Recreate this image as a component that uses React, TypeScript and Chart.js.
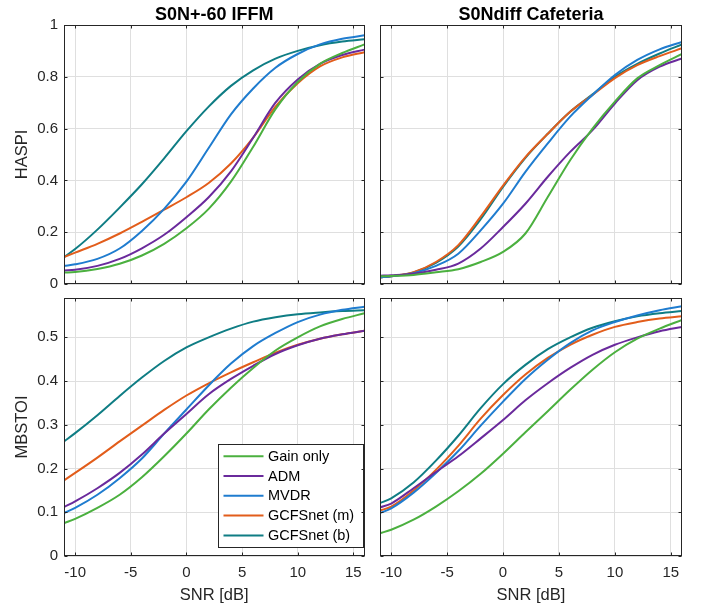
import React, { useEffect, useRef } from "react";
import { Chart, registerables } from "chart.js";

Chart.register(...registerables);

// ---------- data ----------
const SNR = [-11, -10, -8, -6, -4, -2, 0, 2, 4, 6, 8, 10, 12, 14, 16];
const X_TICKS = [-10, -5, 0, 5, 10, 15];
const HASPI_TICKS = [0, 0.2, 0.4, 0.6, 0.8, 1];
const MBSTOI_TICKS = [0, 0.1, 0.2, 0.3, 0.4, 0.5];
const SERIES_NAMES = ["Gain only", "ADM", "MVDR", "GCFSnet (m)", "GCFSnet (b)"];
const SERIES_COLORS = ["#4bb03f", "#6a2a9c", "#1f7ccf", "#e25d1b", "#0f7d84"];
const PANEL_TITLES = ["S0N+-60 IFFM", "S0Ndiff Cafeteria"];
const X_LABEL = "SNR [dB]";
const Y_LABELS = ["HASPI", "MBSTOI"];

// HASPI, S0N+-60 IFFM
const haspiIffmGain = [0.044, 0.046, 0.058, 0.078, 0.11, 0.155, 0.215, 0.29, 0.395, 0.53, 0.675, 0.78, 0.85, 0.892, 0.925];
const haspiIffmAdm = [0.052, 0.055, 0.07, 0.097, 0.138, 0.19, 0.258, 0.335, 0.435, 0.565, 0.7, 0.79, 0.85, 0.884, 0.905];
const haspiIffmMvdr = [0.07, 0.076, 0.097, 0.137, 0.205, 0.29, 0.395, 0.525, 0.655, 0.755, 0.835, 0.888, 0.925, 0.947, 0.96];
const haspiIffmGcfsM = [0.104, 0.121, 0.155, 0.195, 0.24, 0.287, 0.335, 0.39, 0.465, 0.565, 0.685, 0.775, 0.84, 0.875, 0.895];
const haspiIffmGcfsB = [0.104, 0.135, 0.21, 0.295, 0.385, 0.485, 0.59, 0.685, 0.765, 0.825, 0.87, 0.9, 0.922, 0.936, 0.945];

// HASPI, S0Ndiff Cafeteria
const haspiCafeGain = [0.03, 0.031, 0.035, 0.045, 0.057, 0.085, 0.124, 0.195, 0.336, 0.478, 0.6, 0.704, 0.794, 0.845, 0.888];
const haspiCafeAdm = [0.032, 0.034, 0.04, 0.055, 0.079, 0.137, 0.22, 0.31, 0.414, 0.51, 0.594, 0.697, 0.787, 0.839, 0.871];
const haspiCafeMvdr = [0.025, 0.03, 0.042, 0.07, 0.117, 0.207, 0.31, 0.433, 0.543, 0.646, 0.73, 0.807, 0.865, 0.906, 0.935];
const haspiCafeGcfsM = [0.025, 0.03, 0.046, 0.085, 0.15, 0.26, 0.38, 0.49, 0.58, 0.665, 0.73, 0.795, 0.845, 0.88, 0.91];
const haspiCafeGcfsB = [0.025, 0.03, 0.045, 0.082, 0.145, 0.25, 0.375, 0.487, 0.58, 0.665, 0.732, 0.8, 0.85, 0.89, 0.925];

// MBSTOI, S0N+-60 IFFM
const mbstoiIffmGain = [0.075, 0.085, 0.11, 0.14, 0.18, 0.228, 0.28, 0.335, 0.385, 0.43, 0.47, 0.5, 0.525, 0.542, 0.555];
const mbstoiIffmAdm = [0.112, 0.125, 0.155, 0.19, 0.232, 0.28, 0.325, 0.37, 0.405, 0.435, 0.462, 0.482, 0.497, 0.507, 0.515];
const mbstoiIffmMvdr = [0.098, 0.11, 0.14, 0.178, 0.223, 0.28, 0.335, 0.39, 0.44, 0.48, 0.51, 0.535, 0.552, 0.563, 0.57];
const mbstoiIffmGcfsM = [0.173, 0.19, 0.225, 0.262, 0.298, 0.334, 0.367, 0.395, 0.42, 0.443, 0.465, 0.483, 0.497, 0.507, 0.515];
const mbstoiIffmGcfsB = [0.262, 0.281, 0.322, 0.366, 0.408, 0.446, 0.477, 0.5, 0.52, 0.536, 0.546, 0.553, 0.557, 0.56, 0.562];

// MBSTOI, S0Ndiff Cafeteria
const mbstoiCafeGain = [0.052, 0.06, 0.083, 0.113, 0.148, 0.188, 0.234, 0.283, 0.331, 0.38, 0.426, 0.466, 0.497, 0.52, 0.54];
const mbstoiCafeAdm = [0.111, 0.12, 0.155, 0.192, 0.228, 0.269, 0.311, 0.356, 0.395, 0.43, 0.46, 0.483, 0.5, 0.514, 0.524];
const mbstoiCafeMvdr = [0.098, 0.109, 0.145, 0.19, 0.24, 0.298, 0.353, 0.405, 0.449, 0.487, 0.516, 0.535, 0.55, 0.562, 0.571];
const mbstoiCafeGcfsM = [0.104, 0.113, 0.15, 0.197, 0.252, 0.314, 0.368, 0.415, 0.453, 0.483, 0.506, 0.524, 0.535, 0.543, 0.548];
const mbstoiCafeGcfsB = [0.121, 0.132, 0.168, 0.218, 0.275, 0.338, 0.393, 0.437, 0.473, 0.5, 0.522, 0.537, 0.548, 0.555, 0.56];

// ---------- styling ----------
const FONT = "'Liberation Sans', Arial, Helvetica, sans-serif";
const TEXT = "#262626";
const GRID = "#dfdfdf";
const TICK_LEN = 3;

type Pad = { top: number; right: number; bottom: number; left: number };
type PanelProps = {
  left: number;
  top: number;
  width: number;
  height: number;
  pad: Pad;
  yAxisWidth: number;
  xAxisHeight: number;
  title?: string;
  xTitle?: string;
  yTitle?: string;
  showXLabels: boolean;
  showYLabels: boolean;
  yMax: number;
  yTicks: number[];
  series: number[][];
  legend?: boolean;
};

function zeroPad(s: any) {
  s.paddingLeft = 0;
  s.paddingRight = 0;
  s.paddingTop = 0;
  s.paddingBottom = 0;
}

const framePlugin = {
  id: "frame",
  afterDraw(chart: any) {
    const { ctx, chartArea: a, scales } = chart;
    const l = Math.round(a.left) + 0.5;
    const r = Math.round(a.right) - 0.5;
    const t = Math.round(a.top) + 0.5;
    const b = Math.round(a.bottom) - 0.5;
    ctx.save();
    ctx.strokeStyle = TEXT;
    ctx.lineWidth = 1;
    ctx.beginPath();
    for (const tk of scales.x.ticks) {
      const px = Math.round(scales.x.getPixelForValue(tk.value)) + 0.5;
      ctx.moveTo(px, b);
      ctx.lineTo(px, b - TICK_LEN);
      ctx.moveTo(px, t);
      ctx.lineTo(px, t + TICK_LEN);
    }
    for (const tk of scales.y.ticks) {
      const py = Math.round(scales.y.getPixelForValue(tk.value)) + 0.5;
      ctx.moveTo(l, py);
      ctx.lineTo(l + TICK_LEN, py);
      ctx.moveTo(r, py);
      ctx.lineTo(r - TICK_LEN, py);
    }
    ctx.stroke();
    ctx.strokeRect(l, t, r - l, b - t);
    ctx.restore();
  },
};

function makeTitlePlugin(text?: string) {
  return {
    id: "panelTitle",
    afterDraw(chart: any) {
      if (!text) return;
      const { ctx, chartArea: a } = chart;
      ctx.save();
      ctx.fillStyle = "#000000";
      ctx.font = `bold 18px ${FONT}`;
      ctx.textAlign = "center";
      ctx.textBaseline = "alphabetic";
      ctx.fillText(text, (a.left + a.right) / 2, a.top - 5);
      ctx.restore();
    },
  };
}

const legendPlugin = {
  id: "boxLegend",
  afterDatasetsDraw(chart: any) {
    const { ctx, chartArea: a } = chart;
    const w = 145;
    const h = 103;
    const x0 = Math.round(a.right - 2 - w) + 0.5;
    const y0 = Math.round(a.bottom - 9 - h) + 0.5;
    ctx.save();
    ctx.fillStyle = "#ffffff";
    ctx.fillRect(x0, y0, w, h);
    ctx.strokeStyle = TEXT;
    ctx.lineWidth = 1;
    ctx.strokeRect(x0, y0, w, h);
    ctx.font = `14.5px ${FONT}`;
    ctx.textAlign = "left";
    ctx.textBaseline = "middle";
    chart.data.datasets.forEach((ds: any, i: number) => {
      const y = y0 + 11.7 + i * 19.8;
      ctx.strokeStyle = ds.borderColor;
      ctx.lineWidth = 2;
      ctx.beginPath();
      ctx.moveTo(x0 + 5, y);
      ctx.lineTo(x0 + 45, y);
      ctx.stroke();
      ctx.fillStyle = "#000000";
      ctx.fillText(ds.label, x0 + 49.5, y + 0.5);
    });
    ctx.restore();
  },
};

function Panel(p: PanelProps) {
  const ref = useRef<HTMLCanvasElement | null>(null);
  useEffect(() => {
    const canvas = ref.current;
    if (!canvas) return;
    const chart = new Chart(canvas, {
      type: "line",
      data: {
        datasets: SERIES_NAMES.map((name, i) => ({
          label: name,
          data: SNR.map((x, j) => ({ x, y: p.series[i][j] })),
          borderColor: SERIES_COLORS[i],
          backgroundColor: SERIES_COLORS[i],
          borderWidth: 2,
          pointRadius: 0,
          cubicInterpolationMode: "monotone" as const,
          fill: false,
        })),
      },
      options: {
        responsive: false,
        animation: false,
        devicePixelRatio: 1,
        layout: { padding: p.pad, autoPadding: false } as any,
        plugins: {
          legend: { display: false },
          tooltip: { enabled: false },
          title: { display: false },
        },
        scales: {
          x: {
            type: "linear",
            min: -11,
            max: 16,
            afterBuildTicks: (s: any) => {
              s.ticks = X_TICKS.map((v) => ({ value: v }));
            },
            afterFit: (s: any) => {
              s.height = p.xAxisHeight;
              zeroPad(s);
            },
            grid: { color: GRID, drawTicks: false, lineWidth: 1 },
            border: { display: false },
            ticks: {
              display: p.showXLabels,
              color: TEXT,
              font: { family: FONT, size: 15 },
              padding: 7.5,
              maxRotation: 0,
              autoSkip: false,
              callback: (v: any) => String(v),
            },
            title: {
              display: !!p.xTitle,
              text: p.xTitle || "",
              color: TEXT,
              font: { family: FONT, size: 16.5 },
              padding: { top: 0, bottom: 2 },
            },
          },
          y: {
            type: "linear",
            min: 0,
            max: p.yMax,
            afterBuildTicks: (s: any) => {
              s.ticks = p.yTicks.map((v) => ({ value: v }));
            },
            afterFit: (s: any) => {
              s.width = p.yAxisWidth;
              zeroPad(s);
            },
            grid: { color: GRID, drawTicks: false, lineWidth: 1 },
            border: { display: false },
            ticks: {
              display: p.showYLabels,
              color: TEXT,
              font: { family: FONT, size: 15 },
              padding: 6,
              autoSkip: false,
              callback: (v: any) => String(v),
            },
            title: {
              display: !!p.yTitle,
              text: p.yTitle || "",
              color: TEXT,
              font: { family: FONT, size: 16.5 },
              padding: { top: 13, bottom: 0 },
            },
          },
        },
      },
      plugins: [makeTitlePlugin(p.title), ...(p.legend ? [legendPlugin] : []), framePlugin],
    });
    return () => chart.destroy();
  }, []);
  return (
    <canvas
      ref={ref}
      width={p.width}
      height={p.height}
      style={{ position: "absolute", left: p.left, top: p.top, width: p.width, height: p.height }}
    />
  );
}

export default function App() {
  return (
    <div
      style={{
        position: "fixed",
        left: 0,
        top: 0,
        width: 704,
        height: 607,
        background: "#ffffff",
        overflow: "hidden",
      }}
    >
      <Panel
        left={0}
        top={0}
        width={372}
        height={290}
        pad={{ top: 25, right: 7.5, bottom: 0, left: 0 }}
        yAxisWidth={64}
        xAxisHeight={6}
        title={PANEL_TITLES[0]}
        yTitle={Y_LABELS[0]}
        showXLabels={false}
        showYLabels={true}
        yMax={1}
        yTicks={HASPI_TICKS}
        series={[haspiIffmGain, haspiIffmAdm, haspiIffmMvdr, haspiIffmGcfsM, haspiIffmGcfsB]}
      />
      <Panel
        left={372}
        top={0}
        width={332}
        height={290}
        pad={{ top: 25, right: 22, bottom: 0, left: 0 }}
        yAxisWidth={8}
        xAxisHeight={6}
        title={PANEL_TITLES[1]}
        showXLabels={false}
        showYLabels={false}
        yMax={1}
        yTicks={HASPI_TICKS}
        series={[haspiCafeGain, haspiCafeAdm, haspiCafeMvdr, haspiCafeGcfsM, haspiCafeGcfsB]}
      />
      <Panel
        left={0}
        top={290}
        width={372}
        height={317}
        pad={{ top: 8, right: 7.5, bottom: 0, left: 0 }}
        yAxisWidth={64}
        xAxisHeight={51}
        xTitle={X_LABEL}
        yTitle={Y_LABELS[1]}
        showXLabels={true}
        showYLabels={true}
        yMax={0.59}
        yTicks={MBSTOI_TICKS}
        series={[mbstoiIffmGain, mbstoiIffmAdm, mbstoiIffmMvdr, mbstoiIffmGcfsM, mbstoiIffmGcfsB]}
        legend={true}
      />
      <Panel
        left={372}
        top={290}
        width={332}
        height={317}
        pad={{ top: 8, right: 22, bottom: 0, left: 0 }}
        yAxisWidth={8}
        xAxisHeight={51}
        xTitle={X_LABEL}
        showXLabels={true}
        showYLabels={false}
        yMax={0.59}
        yTicks={MBSTOI_TICKS}
        series={[mbstoiCafeGain, mbstoiCafeAdm, mbstoiCafeMvdr, mbstoiCafeGcfsM, mbstoiCafeGcfsB]}
      />
    </div>
  );
}
